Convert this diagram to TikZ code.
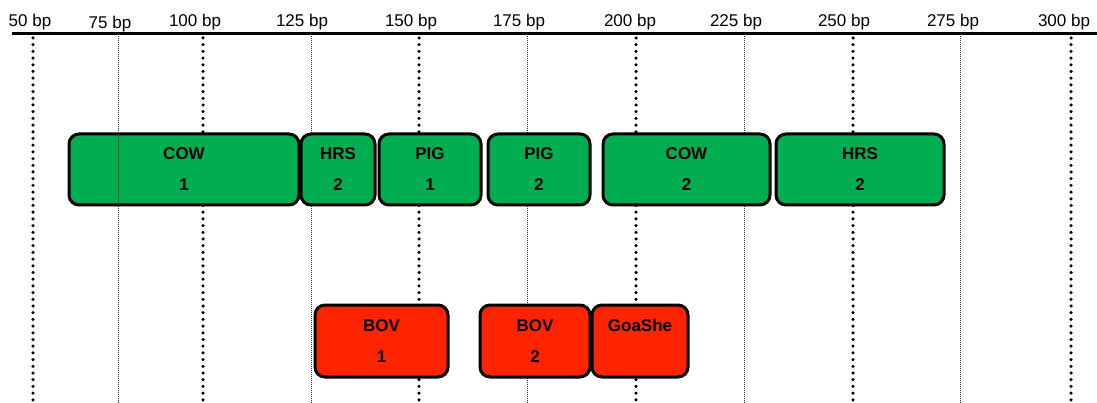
\documentclass[tikz,border=0pt]{standalone}
\usepackage{fontspec}
\setmainfont{Liberation Sans}
\usetikzlibrary{positioning}
\definecolor{hitgreen}{RGB}{0,173,80}
\definecolor{hitred}{RGB}{255,36,0}
\tikzset{
  hit/.style={draw=black, line width=3pt, rounded corners=10pt, align=center,
              font=\fontsize{17}{31}\selectfont\bfseries, inner sep=0pt},
  greenhit/.style={hit, fill=hitgreen, minimum height=71pt},
  redhit/.style={hit, fill=hitred, minimum height=72pt},
  majorgrid/.style={line width=3.5pt, line cap=round, dash pattern=on 0pt off 6.7pt},
  minorgrid/.style={line width=1pt, black!80, dash pattern=on 1pt off 1pt},
  bplab/.style={anchor=base, font=\fontsize{17}{18}\selectfont, inner sep=0pt},
}
\begin{document}
\begin{tikzpicture}[x=1pt, y=-1pt]
\useasboundingbox (0,0) rectangle (1097,403);

% scale
\draw[line width=3pt] (12,34) -- (1097,34);
\foreach \bp/\gx/\lx/\ly in {50/33/30/27, 100/203/195/27, 150/419/411/27,
                             200/636/630/27, 250/853/844/27, 300/1071/1064/27} {
  \node[bplab] (lab\bp) at (\lx,\ly) {\bp\ bp};
  \draw[majorgrid] (\gx,38) -- (\gx,403);
}
\foreach \bp/\gx/\lx/\ly in {75/118/110/29, 125/311/302/27, 175/527/519/27,
                             225/744/736/27, 275/960/953/27} {
  \node[bplab] (lab\bp) at (\lx,\ly) {\bp\ bp};
  \ifnum\bp=75\else\draw[minorgrid] (\gx,36) -- (\gx,403);\fi
}

% hits, upper row
\node[greenhit, minimum width=230pt] (cow1) at (184,169.5) {COW\\1};
\node[greenhit, minimum width=74pt]  (hrs2a) at (338,169.5) {HRS\\2};
\node[greenhit, minimum width=102pt] (pig1) at (430,169.5) {PIG\\1};
\node[greenhit, minimum width=102pt] (pig2) at (539,169.5) {PIG\\2};
\node[greenhit, minimum width=167pt] (cow2) at (686.5,169.5) {COW\\2};
\node[greenhit, minimum width=168pt] (hrs2b) at (860,169.5) {HRS\\2};

% hits, lower row
\node[redhit, minimum width=133pt] (bov1) at (381.5,341) {BOV\\1};
\node[redhit, minimum width=110pt] (bov2) at (535,341) {BOV\\2};
\node[redhit, minimum width=96pt]  (goashe) at (640,341) {GoaShe\\\phantom{2}};

\draw[minorgrid] (118,36) -- (118,403);

\end{tikzpicture}
\end{document}
